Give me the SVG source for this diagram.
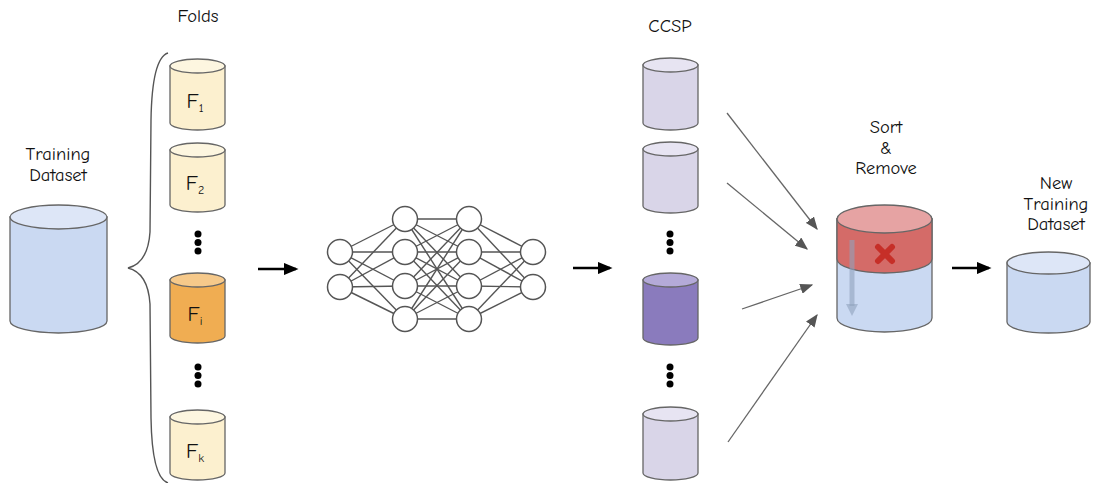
<svg xmlns="http://www.w3.org/2000/svg" width="1094" height="483" viewBox="0 0 1094 483">
<defs>
<style>
text{font-family:"Comic Sans MS","Comic Neue","DejaVu Sans",sans-serif;fill:#111;text-anchor:middle}
.lbl{font-size:18.5px}
.f{font-size:21px}
.sub{font-size:12px}
.cyl{stroke:#666;stroke-width:1.3}
.fold{fill:#fcf0cf}.foldt{fill:#fdf6e0}
.fi{fill:#f0ad52}.fit{fill:#f6c98a}
.cc{fill:#d9d5e8}.cct{fill:#e7e4f2}
.pu{fill:#8a7bbd}.put{fill:#b4aad8}
.bl{fill:#cad9f2}.blt{fill:#dde6f7}
.nn circle{fill:#fff;stroke:#555;stroke-width:1.5}
.nn line{stroke:#555;stroke-width:1.4}
.dot{fill:#000}
.ka{stroke:#000;stroke-width:2.5;fill:none}
.ga{stroke:#666;stroke-width:1.3;fill:none}
</style>
<marker id="mk" markerWidth="6" markerHeight="5" refX="5" refY="2.5" orient="auto" markerUnits="strokeWidth"><path d="M0,0 L6,2.5 L0,5 Z" fill="#000"/></marker>
<marker id="mg" markerWidth="10" markerHeight="8" refX="9" refY="4" orient="auto" markerUnits="strokeWidth"><path d="M0,0 L10,4 L0,8 Z" fill="#555"/></marker>
</defs>

<g id="training-dataset">
<text class="lbl" x="58" y="160">Training</text>
<text class="lbl" x="58" y="181">Dataset</text>
<path class="cyl bl" d="M10,217 V321 A48.5,12 0 0 0 107,321 V217 Z"/>
<ellipse class="cyl blt" cx="58.5" cy="217" rx="48.5" ry="12"/>
</g>

<g id="folds-label"><text class="lbl" x="198" y="22">Folds</text></g>
<g id="brace"><path d="M168,53 Q152,58 151,120 L150,232 Q148,263 128,268 Q148,273 150,304 L151,418 Q152,478 168,483" fill="none" stroke="#555" stroke-width="1.4"/></g>

<g id="fold-1">
<path class="cyl fold" d="M170,66 V123 A27.5,7 0 0 0 225,123 V66 Z"/>
<ellipse class="cyl foldt" cx="197.5" cy="66" rx="27.5" ry="7"/>
<text class="f" x="195" y="108">F<tspan class="sub" dy="4">1</tspan></text>
</g>
<g id="fold-2">
<path class="cyl fold" d="M170,150 V205 A27.5,7 0 0 0 225,205 V150 Z"/>
<ellipse class="cyl foldt" cx="197.5" cy="150" rx="27.5" ry="7"/>
<text class="f" x="195" y="190">F<tspan class="sub" dy="4">2</tspan></text>
</g>
<g id="fold-dots-1"><circle class="dot" cx="198" cy="234" r="3.5"/><circle class="dot" cx="198" cy="242.5" r="3.5"/><circle class="dot" cx="198" cy="251" r="3.5"/></g>
<g id="fold-i">
<path class="cyl fi" d="M170,280 V336 A27.5,7 0 0 0 225,336 V280 Z"/>
<ellipse class="cyl fit" cx="197.5" cy="280" rx="27.5" ry="7"/>
<text class="f" x="195" y="321">F<tspan class="sub" dy="4">i</tspan></text>
</g>
<g id="fold-dots-2"><circle class="dot" cx="198" cy="367" r="3.5"/><circle class="dot" cx="198" cy="375.5" r="3.5"/><circle class="dot" cx="198" cy="384" r="3.5"/></g>
<g id="fold-k">
<path class="cyl fold" d="M170,417 V473 A27.5,7 0 0 0 225,473 V417 Z"/>
<ellipse class="cyl foldt" cx="197.5" cy="417" rx="27.5" ry="7"/>
<text class="f" x="195" y="458">F<tspan class="sub" dy="4">k</tspan></text>
</g>

<g id="neural-network" class="nn">
<line x1="340" y1="252" x2="405" y2="219"/><line x1="340" y1="252" x2="405" y2="252"/><line x1="340" y1="252" x2="405" y2="286"/><line x1="340" y1="252" x2="405" y2="319"/>
<line x1="340" y1="287" x2="405" y2="219"/><line x1="340" y1="287" x2="405" y2="252"/><line x1="340" y1="287" x2="405" y2="286"/><line x1="340" y1="287" x2="405" y2="319"/>
<line x1="405" y1="219" x2="469" y2="219"/><line x1="405" y1="219" x2="469" y2="252"/><line x1="405" y1="219" x2="469" y2="286"/><line x1="405" y1="219" x2="469" y2="319"/>
<line x1="405" y1="252" x2="469" y2="219"/><line x1="405" y1="252" x2="469" y2="252"/><line x1="405" y1="252" x2="469" y2="286"/><line x1="405" y1="252" x2="469" y2="319"/>
<line x1="405" y1="286" x2="469" y2="219"/><line x1="405" y1="286" x2="469" y2="252"/><line x1="405" y1="286" x2="469" y2="286"/><line x1="405" y1="286" x2="469" y2="319"/>
<line x1="405" y1="319" x2="469" y2="219"/><line x1="405" y1="319" x2="469" y2="252"/><line x1="405" y1="319" x2="469" y2="286"/><line x1="405" y1="319" x2="469" y2="319"/>
<line x1="469" y1="219" x2="533" y2="252"/><line x1="469" y1="219" x2="533" y2="287"/>
<line x1="469" y1="252" x2="533" y2="252"/><line x1="469" y1="252" x2="533" y2="287"/>
<line x1="469" y1="286" x2="533" y2="252"/><line x1="469" y1="286" x2="533" y2="287"/>
<line x1="469" y1="319" x2="533" y2="252"/><line x1="469" y1="319" x2="533" y2="287"/>
<circle cx="340" cy="252" r="12.5"/><circle cx="340" cy="287" r="12.5"/>
<circle cx="405" cy="219" r="12.5"/><circle cx="405" cy="252" r="12.5"/><circle cx="405" cy="286" r="12.5"/><circle cx="405" cy="319" r="12.5"/>
<circle cx="469" cy="219" r="12.5"/><circle cx="469" cy="252" r="12.5"/><circle cx="469" cy="286" r="12.5"/><circle cx="469" cy="319" r="12.5"/>
<circle cx="533" cy="252" r="12.5"/><circle cx="533" cy="287" r="12.5"/>
</g>

<g id="ccsp-label"><text class="lbl" x="670" y="32">CCSP</text></g>
<g id="ccsp-1">
<path class="cyl cc" d="M643,65 V123 A27.5,7 0 0 0 698,123 V65 Z"/>
<ellipse class="cyl cct" cx="670.5" cy="65" rx="27.5" ry="7"/>
</g>
<g id="ccsp-2">
<path class="cyl cc" d="M643,149 V206 A27.5,7 0 0 0 698,206 V149 Z"/>
<ellipse class="cyl cct" cx="670.5" cy="149" rx="27.5" ry="7"/>
</g>
<g id="ccsp-dots-1"><circle class="dot" cx="670" cy="234" r="3.5"/><circle class="dot" cx="670" cy="242.5" r="3.5"/><circle class="dot" cx="670" cy="251" r="3.5"/></g>
<g id="ccsp-i">
<path class="cyl pu" d="M643,280 V338 A27.5,7 0 0 0 698,338 V280 Z"/>
<ellipse class="cyl put" cx="670.5" cy="280" rx="27.5" ry="7"/>
</g>
<g id="ccsp-dots-2"><circle class="dot" cx="670" cy="367" r="3.5"/><circle class="dot" cx="670" cy="375.5" r="3.5"/><circle class="dot" cx="670" cy="384" r="3.5"/></g>
<g id="ccsp-k">
<path class="cyl cc" d="M643,414 V473 A27.5,7 0 0 0 698,473 V414 Z"/>
<ellipse class="cyl cct" cx="670.5" cy="414" rx="27.5" ry="7"/>
</g>

<g id="sort-remove">
<text class="lbl" x="886" y="133">Sort</text>
<text class="lbl" x="886" y="154">&amp;</text>
<text class="lbl" x="886" y="174">Remove</text>
<path class="cyl bl" d="M837,219 V318 A47.5,14 0 0 0 932,318 V219 Z"/>
<path d="M837,219 V259 A47.5,14 0 0 0 932,259 V219 Z" fill="#d46b68" stroke="#666" stroke-width="1.3"/>
<ellipse class="cyl" cx="884.5" cy="219" rx="47.5" ry="14" fill="#e6a3a3"/>
<path d="M878,247 L892,261 M892,247 L878,261" stroke="#c62f28" stroke-width="6" stroke-linecap="round"/>
<path d="M852,240 V306" stroke="#8fa2bd" stroke-opacity="0.6" stroke-width="5"/>
<path d="M846,304 L852,316 L858,304 Z" fill="#8fa2bd" fill-opacity="0.6"/>
</g>

<g id="new-training-dataset">
<text class="lbl" x="1056" y="189">New</text>
<text class="lbl" x="1056" y="210">Training</text>
<text class="lbl" x="1056" y="230">Dataset</text>
<path class="cyl bl" d="M1007,263 V322 A41.5,11 0 0 0 1090,322 V263 Z"/>
<ellipse class="cyl blt" cx="1048.5" cy="263" rx="41.5" ry="11"/>
</g>

<g id="connectors">
<line class="ka" x1="258" y1="269" x2="296" y2="269" marker-end="url(#mk)"/>
<line class="ka" x1="573" y1="268" x2="610" y2="268" marker-end="url(#mk)"/>
<line class="ka" x1="952" y1="268" x2="989" y2="268" marker-end="url(#mk)"/>
<line class="ga" x1="727" y1="113" x2="817" y2="229" marker-end="url(#mg)"/>
<line class="ga" x1="727" y1="183" x2="807" y2="249" marker-end="url(#mg)"/>
<line class="ga" x1="742" y1="309" x2="812" y2="285" marker-end="url(#mg)"/>
<line class="ga" x1="728" y1="442" x2="817" y2="315" marker-end="url(#mg)"/>
</g>
</svg>
